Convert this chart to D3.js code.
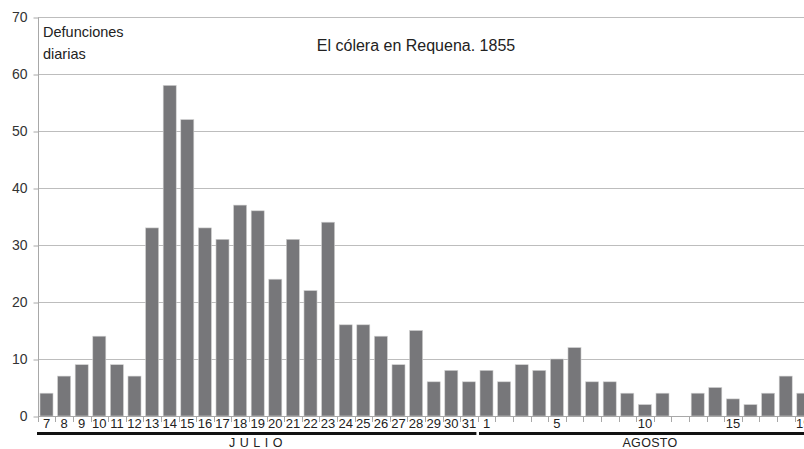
<!DOCTYPE html>
<html>
<head>
<meta charset="utf-8">
<script src="https://cdn.jsdelivr.net/npm/d3@7"></script>
<style>
  html, body { margin: 0; padding: 0; background: #fff; }
  svg { display: block; font-family: "Liberation Sans", Arial, sans-serif; }
</style>
</head>
<body>
<svg id="chart" width="804" height="449"></svg>
<script>
// ---- Data ----
const julyDays   = [7, 8, 9, 10, 11, 12, 13, 14, 15, 16, 17, 18, 19, 20, 21, 22, 23, 24, 25, 26, 27, 28, 29, 30, 31];
const julyValues = [4, 7, 9, 14, 9, 7, 33, 58, 52, 33, 31, 37, 36, 24, 31, 22, 34, 16, 16, 14, 9, 15, 6, 8, 6];
const augDays    = [1, 2, 3, 4, 5, 6, 7, 8, 9, 10, 11, 12, 13, 14, 15, 16, 17, 18, 19];
const augValues  = [8, 6, 9, 8, 10, 12, 6, 6, 4, 2, 4, 0, 4, 5, 3, 2, 4, 7, 4];
const augLabeled = [1, 5, 10, 15, 19];
const yTicks     = [0, 10, 20, 30, 40, 50, 60, 70];
const months     = ["JULIO", "AGOSTO"];
const title      = "El cólera en Requena. 1855";
const yTitle     = ["Defunciones", "diarias"];

// ---- Build categories ----
const cats = [];
julyDays.forEach((d, i) => cats.push({ key: "J" + d, month: 0, day: d, value: julyValues[i], label: String(d) }));
augDays.forEach((d, i) => cats.push({ key: "A" + d, month: 1, day: d, value: augValues[i],
  label: augLabeled.includes(d) ? String(d) : "" }));

const svg = d3.select("#chart");
const W = 804, H = 449;

const step = 17.6;
const x0 = 37.7;
const x = d3.scaleBand()
  .domain(cats.map(c => c.key))
  .range([x0, x0 + step * cats.length])
  .paddingInner(0.26)
  .paddingOuter(0.13);

const y = d3.scaleLinear().domain([0, 70]).range([416, 17]);

const axisX = 38;

// gridlines
svg.append("g").selectAll("line")
  .data(yTicks.filter(t => t > 0))
  .join("line")
  .attr("x1", axisX).attr("x2", W)
  .attr("y1", d => Math.round(y(d)) + 0.5).attr("y2", d => Math.round(y(d)) + 0.5)
  .attr("stroke", "#bdbdbd").attr("stroke-width", 1);

// y axis
const yAxis = d3.axisLeft(y).tickValues(yTicks).tickSize(5).tickPadding(6);
const gy = svg.append("g").attr("transform", `translate(${axisX + 0.5},0.5)`).call(yAxis);
gy.select(".domain").attr("stroke", "#a8a8a8").attr("d", `M0,${y(70)}V${y(0)}`);
gy.selectAll(".tick line").attr("stroke", "#a8a8a8");
gy.selectAll(".tick text").attr("fill", "#333").attr("font-size", 14)
  .attr("font-family", "'Liberation Sans', Arial, sans-serif");

// bars
svg.append("g").selectAll("rect")
  .data(cats.filter(c => c.value > 0))
  .join("rect")
  .attr("x", d => x(d.key))
  .attr("y", d => y(d.value))
  .attr("width", x.bandwidth())
  .attr("height", d => y(0) - y(d.value))
  .attr("fill", "#77777a")
  .attr("stroke", "#d0d0d0")
  .attr("stroke-width", 0.6);

// x axis baseline
svg.append("line")
  .attr("x1", axisX).attr("x2", W)
  .attr("y1", y(0) + 0.5).attr("y2", y(0) + 0.5)
  .attr("stroke", "#a8a8a8");

// x ticks at category boundaries
const boundaries = cats.map(c => x(c.key) - x.step() * x.paddingInner() / 2);
svg.append("g").selectAll("line")
  .data(boundaries)
  .join("line")
  .attr("x1", d => Math.round(d) + 0.5).attr("x2", d => Math.round(d) + 0.5)
  .attr("y1", y(0)).attr("y2", y(0) + 6)
  .attr("stroke", "#a8a8a8");

// x labels
svg.append("g").selectAll("text")
  .data(cats.filter(c => c.label !== ""))
  .join("text")
  .attr("x", d => x(d.key) + x.bandwidth() / 2)
  .attr("y", 427.5)
  .attr("text-anchor", "middle")
  .attr("font-size", 13)
  .attr("fill", "#222")
  .text(d => d.label);

// month brackets
const julyStart = 37, julyEnd = x("J31") + x.bandwidth() + 1;
const augStart = x("A1") - 1, augEnd = W;
const brackets = [
  { name: months[0], x1: julyStart, x2: julyEnd, cx: 258, ls: 4.5 },
  { name: months[1], x1: augStart, x2: augEnd, cx: 650, ls: 0.3 }
];
svg.append("g").selectAll("line")
  .data(brackets)
  .join("line")
  .attr("x1", d => d.x1).attr("x2", d => d.x2)
  .attr("y1", 433.5).attr("y2", 433.5)
  .attr("stroke", "#111").attr("stroke-width", 3);
svg.append("g").selectAll("text")
  .data(brackets)
  .join("text")
  .attr("x", d => d.cx)
  .attr("y", 447)
  .attr("text-anchor", "middle")
  .attr("font-size", 12.5)
  .attr("letter-spacing", d => d.ls)
  .attr("fill", "#222")
  .text(d => d.name);

// title
svg.append("text")
  .attr("x", 416).attr("y", 51)
  .attr("text-anchor", "middle")
  .attr("font-size", 16)
  .attr("fill", "#222")
  .text(title);

// y title
svg.append("g").selectAll("text")
  .data(yTitle)
  .join("text")
  .attr("x", 43)
  .attr("y", (d, i) => 37 + i * 22)
  .attr("font-size", 14.5)
  .attr("fill", "#222")
  .text(d => d);
</script>
</body>
</html>
